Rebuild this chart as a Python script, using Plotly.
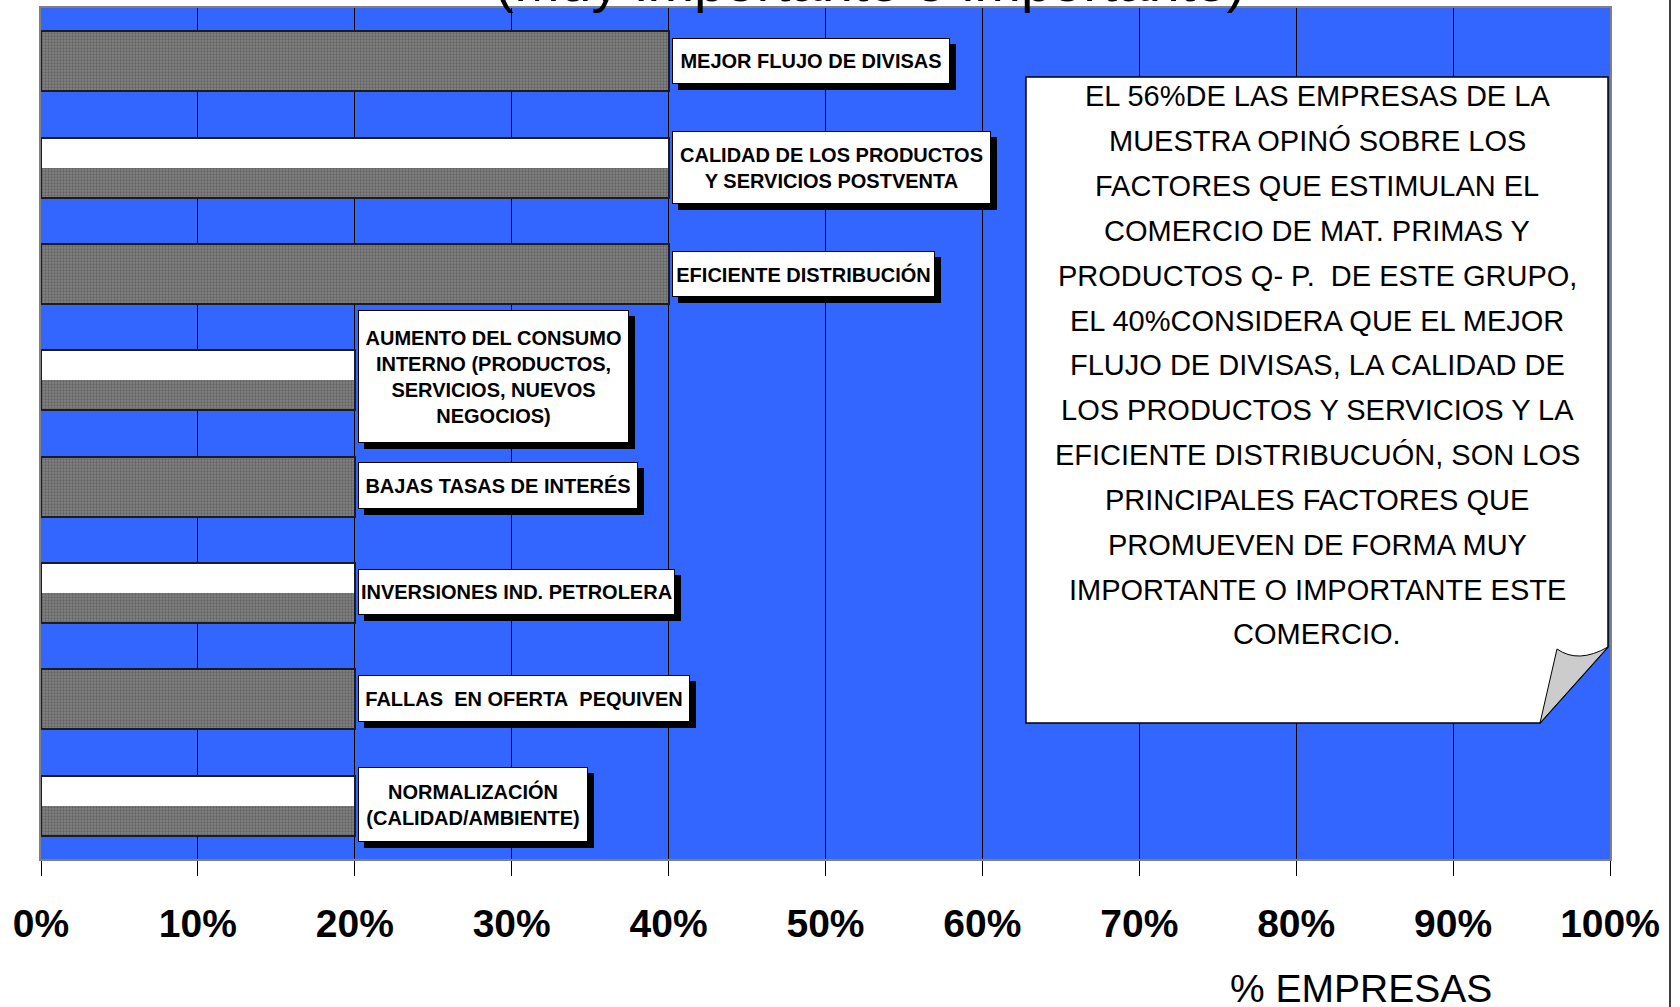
import plotly.graph_objects as go

# ---------------- data ----------------
categories = [
    "MEJOR FLUJO DE DIVISAS",
    "CALIDAD DE LOS PRODUCTOS Y SERVICIOS POSTVENTA",
    "EFICIENTE DISTRIBUCIÓN",
    "AUMENTO DEL CONSUMO INTERNO",
    "BAJAS TASAS DE INTERÉS",
    "INVERSIONES IND. PETROLERA",
    "FALLAS EN OFERTA PEQUIVEN",
    "NORMALIZACIÓN",
]
label_texts = [
    "MEJOR FLUJO DE DIVISAS",
    "CALIDAD DE LOS PRODUCTOS<br>Y SERVICIOS POSTVENTA",
    "EFICIENTE DISTRIBUCIÓN",
    "AUMENTO DEL CONSUMO<br>INTERNO (PRODUCTOS,<br>SERVICIOS, NUEVOS<br>NEGOCIOS)",
    "BAJAS TASAS DE INTERÉS",
    "INVERSIONES IND. PETROLERA",
    "FALLAS\u00a0 EN OFERTA\u00a0 PEQUIVEN",
    "NORMALIZACIÓN<br>(CALIDAD/AMBIENTE)",
]
gray_values = [40, 40, 40, 20, 20, 20, 20, 20]
white_values = [0, 40, 0, 20, 0, 20, 0, 20]

tick_values = [0, 10, 20, 30, 40, 50, 60, 70, 80, 90, 100]
tick_labels = ["0%", "10%", "20%", "30%", "40%", "50%", "60%", "70%", "80%", "90%", "100%"]

note_lines = [
    "EL 56%DE LAS EMPRESAS DE LA",
    "MUESTRA OPINÓ SOBRE LOS",
    "FACTORES QUE ESTIMULAN EL",
    "COMERCIO DE MAT. PRIMAS Y",
    "PRODUCTOS Q- P.\u00a0 DE ESTE GRUPO,",
    "EL 40%CONSIDERA QUE EL MEJOR",
    "FLUJO DE DIVISAS, LA CALIDAD DE",
    "LOS PRODUCTOS Y SERVICIOS Y LA",
    "EFICIENTE DISTRIBUCUÓN, SON LOS",
    "PRINCIPALES FACTORES QUE",
    "PROMUEVEN DE FORMA MUY",
    "IMPORTANTE O IMPORTANTE ESTE",
    "COMERCIO.",
]
title_text = "(Muy importante o importante)"
axis_title = "% EMPRESAS"

# ---------------- layout geometry (pixels) ----------------
W, H = 1680, 1007
PL, PR, PT, PB = 41, 1610, 8, 859   # plot area
FONT = "Liberation Sans, Arial, sans-serif"


def px(xp):
    return (xp - PL) / (PR - PL)


def py(yp):
    return (PB - yp) / (PB - PT)


# label box sizes (w, h) and y-shift
label_boxes = [(278, 46, 0), (319, 73, 0), (263, 46, 0), (271, 133, 4),
               (280, 47, 1), (317, 46, 1), (332, 47, 1), (230, 75, 1)]

BW = 0.565
fig = go.Figure()
fig.add_trace(go.Bar(
    y=categories, x=gray_values, orientation="h", width=BW, offset=-BW / 2,
    marker=dict(color="#7c7c7c",
                pattern=dict(shape=".", fgcolor="#636363", bgcolor="#838383",
                             size=3, solidity=0.45, fillmode="replace"),
                line=dict(width=0)),
    hoverinfo="skip", showlegend=False))
fig.add_trace(go.Bar(
    y=categories, x=white_values, orientation="h", width=BW / 2, offset=-BW / 2,
    marker=dict(color="white", line=dict(width=0)),
    hoverinfo="skip", showlegend=False))
fig.add_trace(go.Bar(
    y=categories, x=gray_values, orientation="h", width=BW, offset=-BW / 2,
    marker=dict(color="rgba(0,0,0,0)", line=dict(color="#1c1c1c", width=2)),
    hoverinfo="skip", showlegend=False))

annotations = []
for cat, val, txt, (bw, bh, ys) in zip(categories, gray_values, label_texts, label_boxes):
    common = dict(x=val, y=cat, xref="x", yref="y", xanchor="left", yanchor="middle",
                  text=txt, showarrow=False, align="center",
                  width=bw - 4, height=bh - 4, borderpad=1, borderwidth=1)
    shadow = dict(common)
    shadow.update(xshift=3 + 6, yshift=ys - 6, bgcolor="black", bordercolor="black",
                  font=dict(family=FONT, size=20, weight="bold", color="black"))
    box = dict(common)
    box.update(xshift=3, yshift=ys, bgcolor="white", bordercolor="black",
               font=dict(family=FONT, size=20, weight="bold", color="black"))
    annotations.append(shadow)
    annotations.append(box)

# note text lines
line_y0, line_dy = 96.4, 44.83
for i, ln in enumerate(note_lines):
    annotations.append(dict(
        x=px(1317), y=py(line_y0 + i * line_dy), xref="paper", yref="paper",
        xanchor="center", yanchor="middle", text=ln, showarrow=False,
        font=dict(family=FONT, size=29, color="black")))

# title (cut off at top) and axis title
annotations.append(dict(
    x=px(870), y=py(-19), xref="paper", yref="paper", xanchor="center",
    yanchor="middle", text=title_text, showarrow=False,
    font=dict(family=FONT, size=56, color="black")))
annotations.append(dict(
    x=px(1361), y=py(988), xref="paper", yref="paper", xanchor="center",
    yanchor="middle", text=axis_title, showarrow=False,
    font=dict(family=FONT, size=39, color="black")))


def path(points, close=True):
    s = "M " + " L ".join(f"{px(a):.5f},{py(b):.5f}" for a, b in points)
    return s + (" Z" if close else "")


box_path = path([(1026, 77), (1608, 77), (1608, 647), (1540, 723), (1026, 723)])
curl_path = (f"M {px(1540):.5f},{py(723):.5f} L {px(1557):.5f},{py(649):.5f} "
             f"Q {px(1578):.5f},{py(664):.5f} {px(1608):.5f},{py(647):.5f} Z")

shapes = [
    dict(type="path", xref="paper", yref="paper", path=box_path,
         fillcolor="white", line=dict(color="black", width=1.5), layer="above"),
    dict(type="path", xref="paper", yref="paper", path=curl_path,
         fillcolor="#cccccc", line=dict(color="black", width=1), layer="above"),
    dict(type="line", xref="paper", yref="paper", x0=px(1670), x1=px(1670),
         y0=py(H + 5), y1=py(-5), line=dict(color="black", width=1.5)),
]

fig.update_layout(
    width=W, height=H,
    margin=dict(l=PL, r=W - PR, t=PT, b=H - PB, autoexpand=False),
    paper_bgcolor="white", plot_bgcolor="#3366FF",
    barmode="overlay", bargap=0,
    showlegend=False,
    annotations=annotations, shapes=shapes,
    xaxis=dict(range=[0, 100], tickvals=tick_values, ticktext=tick_labels,
               showgrid=True, gridcolor="black", gridwidth=1,
               ticks="outside", ticklen=15, tickcolor="black", tickwidth=1,
               ticklabelstandoff=14,
               tickfont=dict(family=FONT, size=39, weight="bold", color="black"),
               showline=True, linecolor="#808080", linewidth=2, mirror=True,
               zeroline=False, automargin=False, fixedrange=True),
    yaxis=dict(autorange="reversed", showticklabels=False, ticks="",
               showgrid=False, showline=True, linecolor="#808080", linewidth=2,
               mirror=True, automargin=False, fixedrange=True),
)

fig.write_html("out.html",
               config={"displayModeBar": False},
               post_script="document.body.style.margin='0px';"
                           "document.body.style.overflow='hidden';")
